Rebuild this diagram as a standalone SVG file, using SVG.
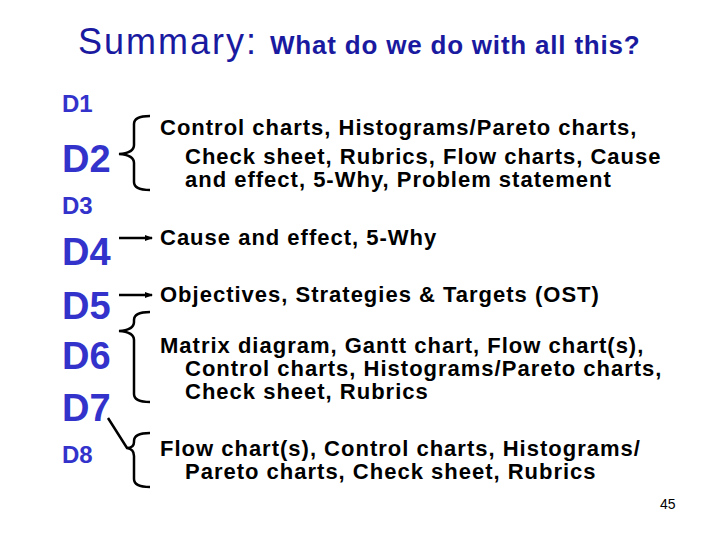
<svg xmlns="http://www.w3.org/2000/svg" width="720" height="540" viewBox="0 0 720 540">
<style>
text{font-family:"Liberation Sans",Arial,sans-serif}
.d{fill:#3333cc;font-weight:bold}
.ds{font-size:24px}
.dl{font-size:38px}
.t{font-size:22px;fill:#000;font-weight:bold;letter-spacing:1px}
.c{fill:none;stroke:#000;stroke-width:2.5}
</style>
<defs><marker id="a" markerWidth="8" markerHeight="6" refX="7" refY="3" orient="auto" markerUnits="userSpaceOnUse"><path d="M0,0L8,3L0,6z"/></marker></defs>
<rect width="720" height="540" fill="#fff"/>
<text x="78" y="54" font-size="36" fill="#1a1aa0" letter-spacing="2">Summary:</text>
<text x="270" y="54" font-size="26" fill="#1a1aa0" font-weight="bold" letter-spacing="0.8">What do we do with all this?</text>
<g id="n1"><text x="62" y="112" class="d ds">D1</text></g>
<g id="n2"><text x="62" y="172" class="d dl">D2</text></g>
<g id="n3"><text x="62" y="214" class="d ds">D3</text></g>
<g id="n4"><text x="62" y="265" class="d dl">D4</text></g>
<g id="n5"><text x="62" y="319" class="d dl">D5</text></g>
<g id="n6"><text x="62" y="369" class="d dl">D6</text></g>
<g id="n7"><text x="62" y="421" class="d dl">D7</text></g>
<g id="n8"><text x="62" y="463" class="d ds">D8</text></g>
<g id="t1"><text x="160" y="135" class="t">Control charts, Histograms/Pareto charts,</text><text x="185" y="164" class="t">Check sheet, Rubrics, Flow charts, Cause</text><text x="185" y="187" class="t">and effect, 5-Why, Problem statement</text></g>
<g id="t2"><text x="160" y="245" class="t">Cause and effect, 5-Why</text></g>
<g id="t3"><text x="160" y="302" class="t">Objectives, Strategies &amp; Targets (OST)</text></g>
<g id="t4"><text x="160" y="353" class="t">Matrix diagram, Gantt chart, Flow chart(s),</text><text x="185" y="376" class="t">Control charts, Histograms/Pareto charts,</text><text x="185" y="399" class="t">Check sheet, Rubrics</text></g>
<g id="t5"><text x="160" y="456" class="t">Flow chart(s), Control charts, Histograms/</text><text x="185" y="479" class="t">Pareto charts, Check sheet, Rubrics</text></g>
<g id="connectors">
<path class="c" d="M150,116Q134,116 134,124V145Q134,153 119,154Q134,155 134,163V182Q134,190 150,190"/>
<line class="c" x1="119" y1="238" x2="152" y2="238" marker-end="url(#a)"/>
<line class="c" x1="119" y1="295" x2="152" y2="295" marker-end="url(#a)"/>
<path class="c" d="M150,312Q134,312 134,320V322Q134,330 119,331Q134,332 134,340V394Q134,402 150,402"/>
<path class="c" d="M108,418L127,448Q134,448 134,442V441Q134,433 150,433M127,448Q134,449 134,456V479Q134,487 150,487"/>
</g>
<text x="660" y="509" font-size="14" fill="#000">45</text>
</svg>
